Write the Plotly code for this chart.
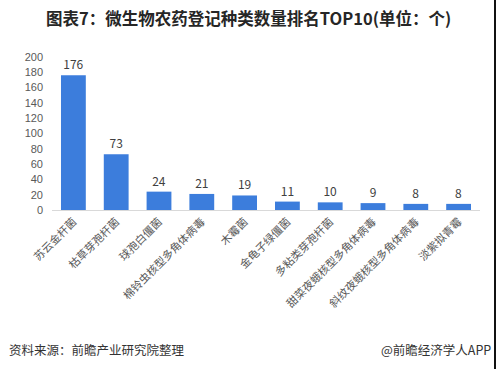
import plotly.graph_objects as go

categories = ["苏云金杆菌", "枯草芽孢杆菌", "球孢白僵菌", "棉铃虫核型多角体病毒", "木霉菌",
              "金龟子绿僵菌", "多粘类芽孢杆菌", "甜菜夜蛾核型多角体病毒", "斜纹夜蛾核型多角体病毒", "淡紫拟青霉"]
counts = [176, 73, 24, 21, 19, 11, 10, 9, 8, 8]
y_ticks = [0, 20, 40, 60, 80, 100, 120, 140, 160, 180, 200]

title_text = "图表7：微生物农药登记种类数量排名TOP10(单位：个)"
source_text = "资料来源：前瞻产业研究院整理"
brand_text = "@前瞻经济学人APP"

W, H = 496, 369
L, R, T, B = 52, 16, 57, 159
pw, ph = W - L - R, H - T - B

def px_x(x):
    return (x - L) / pw

def px_y(y):
    return (H - B - y) / ph

fig = go.Figure()
fig.add_trace(go.Bar(
    x=categories, y=counts,
    marker=dict(color="#3c7ddc", line=dict(width=0)),
    text=[str(v) for v in counts], textposition="outside",
    textfont=dict(size=12, color="#404040", family="Noto Sans CJK SC"),
    cliponaxis=False, hoverinfo="skip",
))

fig.update_layout(
    width=W, height=H,
    margin=dict(l=L, r=R, t=T, b=B, pad=0, autoexpand=False),
    paper_bgcolor="white", plot_bgcolor="white",
    showlegend=False, bargap=0.42,
    font=dict(family="Noto Sans CJK SC", color="#595959"),
    xaxis=dict(
        automargin=False,
        tickangle=-45, tickfont=dict(size=11, color="#595959", family="Noto Sans CJK SC"),
        showline=True, linecolor="#d9d9d9", linewidth=1, showgrid=False, ticks="",
    ),
    yaxis=dict(
        automargin=False,
        range=[0, 200], tickvals=y_ticks, showgrid=False, zeroline=False,
        showline=False, ticks="", tickfont=dict(size=11, color="#595959", family="Liberation Sans"),
        ticklabelstandoff=8,
    ),
)

fig.add_annotation(text="<b>" + title_text + "</b>", xref="paper", yref="paper",
                   x=px_x(248), y=px_y(18), xanchor="center", yanchor="middle",
                   showarrow=False, font=dict(size=16.5, color="#262626", family="Noto Sans CJK SC"))
fig.add_annotation(text=source_text, xref="paper", yref="paper",
                   x=px_x(7), y=px_y(349), xanchor="left", yanchor="middle",
                   showarrow=False, font=dict(size=12.5, color="#333333", family="Noto Sans CJK SC"))
fig.add_annotation(text=brand_text, xref="paper", yref="paper",
                   x=px_x(493), y=px_y(349), xanchor="right", yanchor="middle",
                   showarrow=False, font=dict(size=12.5, color="#333333", family="Noto Sans CJK SC"))
fig.add_shape(type="rect", xref="paper", yref="paper",
              x0=px_x(494), x1=px_x(497), y0=px_y(-2), y1=px_y(371),
              fillcolor="#111111", line=dict(width=0), layer="above")

fig.write_html("out.html", config={"displayModeBar": False, "staticPlot": True},
               post_script="document.body.style.margin='0px';document.body.style.overflow='hidden';")
